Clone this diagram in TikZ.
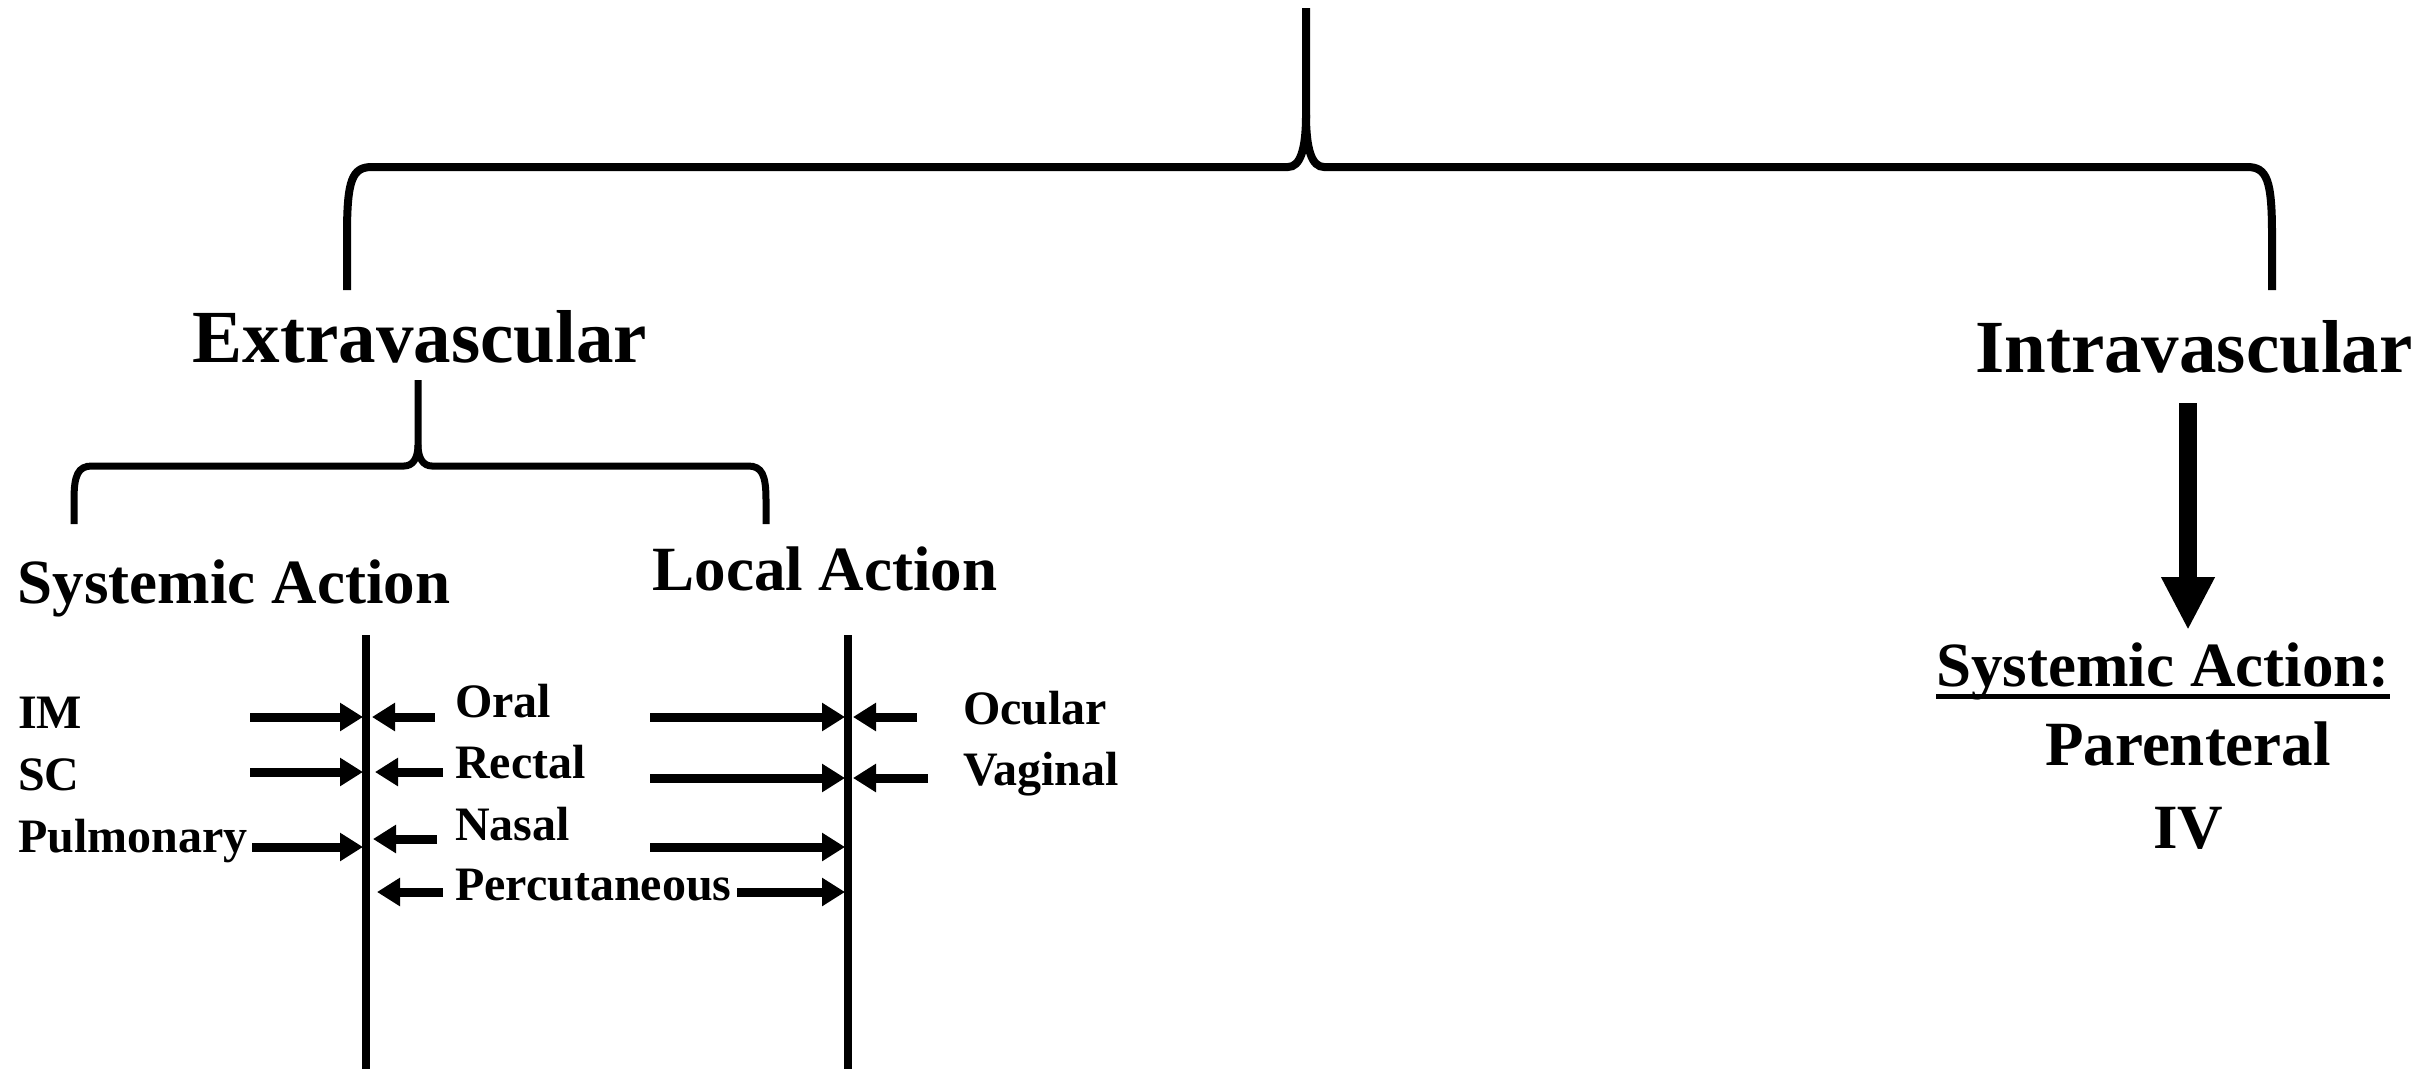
\documentclass[tikz,border=0pt]{standalone}
\usepackage{fontspec}
\setmainfont{Liberation Serif}
\usetikzlibrary{arrows.meta}
\begin{document}
\begin{tikzpicture}[x=1pt,y=-1pt,
  lbl/.style={font=\bfseries\fontsize{48}{50}\selectfont, inner sep=0pt},
  mid/.style={font=\bfseries\fontsize{63}{66}\selectfont, inner sep=0pt},
  big/.style={font=\bfseries\fontsize{75}{78}\selectfont, inner sep=0pt},
  brace/.style={line width=8pt},
  sbrace/.style={line width=7pt},
  wall/.style={line width=8pt},
  arr/.style={line width=9pt, -{Triangle[length=23pt,width=27pt]}},
  bigarr/.style={line width=18pt, -{Triangle[length=53pt,width=50pt]}}
]
\useasboundingbox (0,0) rectangle (2435,1068);
\fill[white] (0,0) rectangle (2435,1068);

% ---- texts
\node[big, anchor=base] (extra) at (420,362) {Extravascular};
\node[big, anchor=base] (intra) at (2194,372) {Intravascular};
\node[mid, anchor=base] (sysL) at (234,603) {Systemic Action};
\node[mid, anchor=base] (loc) at (825,590) {Local Action};
\node[mid, anchor=base] (sysR) at (2163,686) {Systemic Action:};
\node[mid, anchor=base] (par) at (2188,765) {Parenteral};
\node[mid, anchor=base] (iv) at (2188,848) {IV};

\node[lbl, anchor=base west] (im) at (18,728) {IM};
\node[lbl, anchor=base west] (sc) at (18,790) {SC};
\node[lbl, anchor=base west] (pul) at (18,852) {Pulmonary};
\node[lbl, anchor=base west] (oral) at (455,717) {Oral};
\node[lbl, anchor=base west] (rect) at (455,778) {Rectal};
\node[lbl, anchor=base west] (nas) at (455,840) {Nasal};
\node[lbl, anchor=base west] (perc) at (455,900) {Percutaneous};
\node[lbl, anchor=base west] (ocu) at (963,724) {Ocular};
\node[lbl, anchor=base west] (vag) at (963,785) {Vaginal};

% underline
\draw[line width=5pt] ([yshift=-10pt]sysR.base west) -- ([yshift=-10pt]sysR.base east);

% ---- top brace
\coordinate (tb) at (1306,8);
\coordinate (tl) at (347,290);
\coordinate (tr) at (2272,290);
\draw[brace] (tl) -- (347,235) .. controls (347,180) and (352,167) .. (372,167)
  -- (1288,167) .. controls (1300,167) and (1306,150) .. (1306,115) -- (tb);
\draw[brace] (tr) -- (2272,235) .. controls (2272,180) and (2267,167) .. (2247,167)
  -- (1324,167) .. controls (1312,167) and (1306,150) .. (1306,115);

% ---- extravascular brace
\coordinate (eb) at (418,380);
\coordinate (el) at (74,524);
\coordinate (er) at (766,524);
\draw[sbrace] (el) -- (74,500) .. controls (74,475) and (78,466) .. (92,466)
  -- (404,466) .. controls (413,466) and (418,458) .. (418,445) -- (eb);
\draw[sbrace] (er) -- (766,500) .. controls (766,475) and (762,466) .. (748,466)
  -- (432,466) .. controls (423,466) and (418,458) .. (418,445);

% ---- walls
\coordinate (w1t) at (366,635);
\coordinate (w1b) at (366,1072);
\coordinate (w2t) at (848,635);
\coordinate (w2b) at (848,1072);
\draw[wall] (w1t) -- (w1b);
\draw[wall] (w2t) -- (w2b);

% ---- arrows into left wall
\coordinate (a1s) at (250,717); \coordinate (a1e) at (363,717);
\coordinate (a2s) at (250,772); \coordinate (a2e) at (363,772);
\coordinate (a3s) at (252,847); \coordinate (a3e) at (363,847);
\draw[arr] (a1s) -- (a1e);
\draw[arr] (a2s) -- (a2e);
\draw[arr] (a3s) -- (a3e);
\coordinate (b1s) at (435,717); \coordinate (b1e) at (372,717);
\coordinate (b2s) at (443,772); \coordinate (b2e) at (375,772);
\coordinate (b3s) at (437,839); \coordinate (b3e) at (373,839);
\coordinate (b4s) at (443,892); \coordinate (b4e) at (377,892);
\draw[arr] (b1s) -- (b1e);
\draw[arr] (b2s) -- (b2e);
\draw[arr] (b3s) -- (b3e);
\draw[arr] (b4s) -- (b4e);

% ---- arrows into right wall
\coordinate (c1s) at (650,717); \coordinate (c1e) at (845,717);
\coordinate (c2s) at (650,778); \coordinate (c2e) at (845,778);
\coordinate (c3s) at (650,847); \coordinate (c3e) at (845,847);
\coordinate (c4s) at (737,892); \coordinate (c4e) at (845,892);
\draw[arr] (c1s) -- (c1e);
\draw[arr] (c2s) -- (c2e);
\draw[arr] (c3s) -- (c3e);
\draw[arr] (c4s) -- (c4e);
\coordinate (d1s) at (917,717); \coordinate (d1e) at (853,717);
\coordinate (d2s) at (928,778); \coordinate (d2e) at (853,778);
\draw[arr] (d1s) -- (d1e);
\draw[arr] (d2s) -- (d2e);

% ---- intravascular arrow
\coordinate (ia) at (2188,403);
\coordinate (ib) at (2188,630);
\draw[bigarr] (ia) -- (ib);
\end{tikzpicture}
\end{document}
